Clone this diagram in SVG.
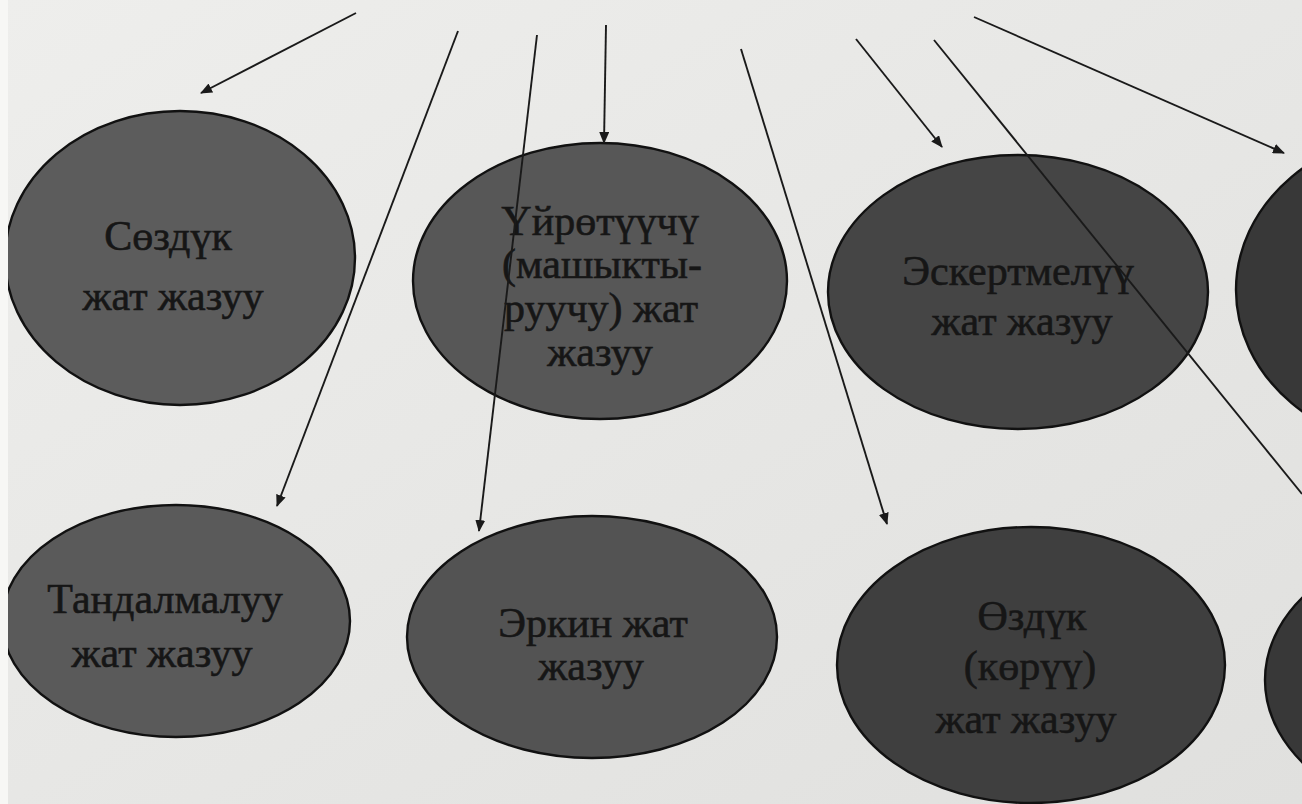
<svg xmlns="http://www.w3.org/2000/svg" width="1302" height="804" viewBox="0 0 1302 804">
<style>
.node ellipse{stroke:#111;stroke-width:2.4}
.lbl{font-family:"Liberation Serif","Times New Roman",serif;font-size:42px;fill:#161616;text-anchor:middle;stroke:#161616;stroke-width:0.6}
.conn line{stroke:#1a1a1a;stroke-width:1.9;fill:none}
</style>
<defs>
<marker id="ah" viewBox="0 0 12 10" refX="11" refY="5" markerWidth="12" markerHeight="10" markerUnits="userSpaceOnUse" orient="auto">
<path d="M0,0 L12,5 L0,10 Z" fill="#1a1a1a"/>
</marker>
<linearGradient id="bg" x1="0" y1="0" x2="1" y2="1">
<stop offset="0" stop-color="#eeeeec"/>
<stop offset="1" stop-color="#e0e0de"/>
</linearGradient>
</defs>
<rect width="1302" height="804" fill="url(#bg)"/>
<g id="nodes">
<g id="n-sozduk" class="node">
<ellipse cx="180" cy="258" rx="175" ry="147" fill="#5c5c5c"/>
<text class="lbl" x="168" y="250">Сөздүк</text>
<text class="lbl" x="173" y="310">жат жазуу</text>
</g>
<g id="n-uirotuuchu" class="node">
<ellipse cx="600" cy="281" rx="187" ry="138" fill="#575757"/>
<text class="lbl" x="600" y="235">Үйрөтүүчү</text>
<text class="lbl" x="602" y="278">(машыкты-</text>
<text class="lbl" x="601" y="322">руучу) жат</text>
<text class="lbl" x="600" y="366">жазуу</text>
</g>
<g id="n-eskertmeluu" class="node">
<ellipse cx="1018" cy="292" rx="190" ry="137" fill="#454545"/>
<text class="lbl" x="1018" y="285">Эскертмелүү</text>
<text class="lbl" x="1022" y="335">жат жазуу</text>
</g>
<g id="n-right-top" class="node">
<ellipse cx="1426" cy="290" rx="190" ry="160" fill="#383838"/>
</g>
<g id="n-tandalmaluu" class="node">
<ellipse cx="176" cy="621" rx="174" ry="116" fill="#5a5a5a"/>
<text class="lbl" x="165" y="613">Тандалмалуу</text>
<text class="lbl" x="162" y="667">жат жазуу</text>
</g>
<g id="n-erkin" class="node">
<ellipse cx="592" cy="637" rx="185" ry="121" fill="#535353"/>
<text class="lbl" x="593" y="637">Эркин жат</text>
<text class="lbl" x="591" y="680">жазуу</text>
</g>
<g id="n-ozduk" class="node">
<ellipse cx="1031" cy="665" rx="194" ry="138" fill="#3f3f3f"/>
<text class="lbl" x="1032" y="630">Өздүк</text>
<text class="lbl" x="1030" y="680">(көрүү)</text>
<text class="lbl" x="1026" y="733">жат жазуу</text>
</g>
<g id="n-right-bottom" class="node">
<ellipse cx="1460" cy="680" rx="195" ry="140" fill="#383838"/>
</g>
</g>
<g id="connectors" class="conn">
<line x1="356" y1="13" x2="201" y2="93" marker-end="url(#ah)"/>
<line x1="458" y1="31" x2="277" y2="506" marker-end="url(#ah)"/>
<line x1="537" y1="35" x2="479" y2="531" marker-end="url(#ah)"/>
<line x1="606" y1="25" x2="604" y2="143" marker-end="url(#ah)"/>
<line x1="741" y1="49" x2="887" y2="524" marker-end="url(#ah)"/>
<line x1="856" y1="39" x2="942" y2="147" marker-end="url(#ah)"/>
<line x1="934" y1="40" x2="1302" y2="494"/>
<line x1="974" y1="17" x2="1284" y2="153" marker-end="url(#ah)"/>
</g>
<rect x="0" y="0" width="8" height="804" fill="#f7f7f5"/>
</svg>
